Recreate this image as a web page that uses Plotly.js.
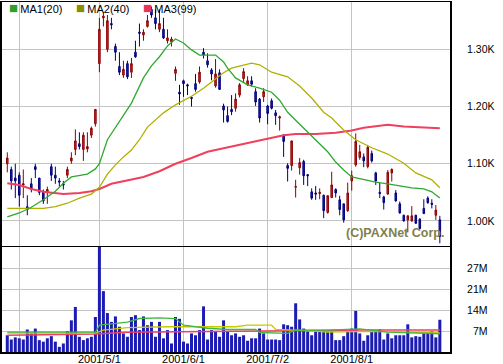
<!DOCTYPE html>
<html><head><meta charset="utf-8">
<script src="https://cdn.plot.ly/plotly-3.0.1.min.js"></script>
<style>html,body{margin:0;padding:0;background:#fff}</style>
</head><body><div id="chart" style="width:503px;height:364px"></div>
<script>
// ---- data (trading-day index 0..108) ----
const openP  = [1100,1090,1075,1080,1063,1025,1065,1095,1075,1050,1050,1095,1080,1070,1065,1080,1105,1125,1135,1125,1126,1150,1170,1275,1355,1300,1345,1305,1270,1255,1275,1260,1295,1330,1325,1340,1370,1355,1335,1335,1315,1313,1258,1225,1245,1238,1216,1240,1243,1295,1280,1264,1236,1259,1201,1184,1195,1197,1220,1249,1238,1245,1226,1213,1217,1201,1210,1189,1180,1150,1097,1097,1059,1093,1104,1081,1051,1049,1048,1045,1015,1041,1055,1037,1030,1018,1070,1098,1111,1112,1095,1118,1084,1050,1042,1047,1084,1049,1030,1010,1002,1000,1010,1003,1022,1040,1031,1010,1002];
const highP  = [1120,1095,1100,1085,1090,1045,1075,1100,1075,1055,1060,1100,1095,1075,1070,1095,1120,1160,1155,1155,1155,1165,1195,1355,1365,1360,1355,1310,1295,1280,1280,1285,1315,1345,1335,1360,1375,1370,1370,1355,1335,1322,1270,1238,1247,1240,1218,1257,1270,1302,1293,1267,1283,1265,1205,1200,1220,1223,1241,1267,1253,1253,1232,1215,1232,1203,1214,1194,1184,1152,1101,1140,1072,1110,1107,1081,1057,1061,1057,1046,1045,1086,1057,1044,1030,1067,1088,1153,1133,1118,1133,1123,1086,1067,1044,1089,1092,1054,1034,1011,1010,1026,1011,1005,1038,1043,1038,1028,1009];
const lowP   = [1085,1055,1040,1025,1040,1010,1050,1075,1045,1030,1030,1070,1065,1060,1055,1075,1100,1115,1125,1105,1120,1145,1165,1260,1340,1295,1335,1280,1255,1250,1248,1250,1285,1305,1315,1338,1355,1335,1330,1318,1310,1305,1245,1203,1217,1220,1200,1226,1240,1284,1268,1246,1233,1229,1172,1172,1185,1191,1216,1242,1236,1235,1201,1172,1208,1169,1195,1168,1158,1112,1069,1088,1041,1081,1063,1061,1037,1037,1038,1005,1013,1040,1041,1010,997,1016,1053,1095,1107,1094,1092,1102,1063,1040,1020,1046,1069,1034,1013,999,980,999,995,985,1012,1030,1022,1002,961];
const closeP = [1110,1070,1070,1045,1065,1020,1055,1090,1050,1035,1055,1080,1075,1068,1063,1090,1110,1140,1130,1150,1130,1162,1195,1335,1358,1350,1343,1295,1260,1265,1252,1275,1287,1328,1330,1350,1360,1345,1345,1320,1320,1318,1265,1222,1240,1236,1214,1230,1260,1290,1273,1257,1257,1230,1194,1174,1191,1213,1238,1261,1245,1239,1208,1180,1226,1188,1197,1184,1182,1139,1092,1140,1060,1102,1079,1079,1040,1047,1050,1018,1044,1063,1049,1020,1002,1049,1079,1139,1121,1105,1129,1105,1070,1048,1032,1085,1090,1035,1014,1000,1009,1009,996,987,1013,1032,1029,1019,973];
// volume in millions of shares
const volumeM = [5.5,4.1,4.8,4.5,4.1,7.4,6.1,7.7,3.9,3.4,4.5,5.2,3.4,1.7,2.8,6.8,10.4,14.8,5.0,3.9,4.5,5.0,11.5,34.5,20,12.8,9.9,11.7,8.3,6.1,5.0,11.5,12.1,7.2,11.7,8.8,9.9,5.0,9.9,4.5,7.2,2.8,11.5,10.9,3.4,2.8,6.1,5.5,7.2,15,4.1,7.2,6.7,5.0,10.4,6.7,5.5,6.1,5.0,5.5,3.7,4.5,4.5,7.7,6.1,4.1,4.1,4.1,3.9,9.1,8.8,8.3,16,10.7,7.7,6.7,5.5,6.7,6.7,7.2,6.7,6.7,3.9,3.9,5.2,6.7,7.7,13.5,6.1,3.7,5.5,6.7,6.7,7.4,4.1,6.1,4.5,5.5,5.5,5.5,9.1,4.8,5.2,5.0,6.3,6.3,6.7,4.8,10.6];

// moving-average lines (index, value)
const ma1Idx = [0,3,6,9,12,14,16,18,20,22,23,25,27,29,31,34,36,38,40,42,44,46,48,50,52,54,55,57,60,63,66,68,70,72,75,78,80,82,84,86,89,92,95,98,101,104,106,108];
const ma1Val = [1007,1014,1024,1037,1052,1066,1077,1080,1082,1091,1100,1142,1164,1185,1206,1250,1271,1287,1306,1318,1311,1299,1290,1290,1290,1278,1267,1250,1238,1232,1225,1211,1190,1176,1156,1136,1121,1103,1089,1077,1072,1068,1065,1061,1058,1056,1051,1040];
const ma2Idx = [0,5,9,12,15,18,21,23,25,27,29,31,33,35,37,39,42,46,49,52,54,56,59,61,63,66,70,73,76,79,81,84,87,91,95,99,102,106,108];
const ma2Val = [1022,1022,1022,1025,1031,1040,1047,1059,1082,1098,1112,1124,1142,1164,1177,1189,1203,1218,1232,1248,1259,1267,1273,1276,1273,1260,1252,1236,1215,1190,1180,1159,1142,1128,1117,1101,1084,1072,1058];
const ma3Idx = [0,3,6,9,14,18,21,23,26,31,34,38,42,46,50,54,58,62,66,69,72,77,82,86,89,95,99,104,108];
const ma3Val = [1066,1063,1056,1051,1047,1049,1052,1056,1065,1072,1077,1087,1100,1110,1121,1127,1133,1139,1145,1150,1152,1152,1154,1158,1163,1168,1165,1163,1162];

const vma1Idx = [0,22,23,26,30,33,38,42,44,50,55,62,63,70,72,80,88,95,108];
const vma1Val = [6.5,6.5,8.8,9.3,9.8,11,11.2,11,8.8,7.8,7.4,7.4,6.4,6.1,7.2,7.2,7.6,6.5,6.0];
const vma2Idx = [0,22,24,30,40,57,60,66,67,75,80,90,108];
const vma2Val = [6.2,6.2,7.2,8.0,8.3,8.3,8.8,8.8,7.4,7.0,6.5,6.8,6.3];
const vma3Idx = [0,22,30,60,75,90,108];
const vma3Val = [5.5,5.9,6.5,6.9,7.0,7.2,7.2];

const monthTickIdx = [3,23,44,65,86];
const monthTickText = ['','2001/5/1','2001/6/1','2001/7/2','2001/8/1'];
const priceTicks = [1000,1100,1200,1300];
const priceTickText = ['1.00K','1.10K','1.20K','1.30K'];
const volTicks = [6.9,13.8,20.7,27.6];
const volTickText = ['\u20077M','14M','21M','27M'];

// ---- build ----
const idx = openP.map((_, i) => i);
const M = 1e6;
const traces = [
  {type:'candlestick', x:idx, open:openP, high:highP, low:lowP, close:closeP,
   xaxis:'x', yaxis:'y', whiskerwidth:0, hoverinfo:'skip', showlegend:false,
   increasing:{line:{color:'#8c0000', width:1}, fillcolor:'#d42626'},
   decreasing:{line:{color:'#00007c', width:1}, fillcolor:'#1c1cc8'}},
  {type:'scatter', mode:'lines', x:ma3Idx, y:ma3Val, xaxis:'x', yaxis:'y', line:{color:'#f0405e', width:2}, showlegend:false, hoverinfo:'skip'},
  {type:'scatter', mode:'lines', x:ma2Idx, y:ma2Val, xaxis:'x', yaxis:'y', line:{color:'#b0b000', width:1.3}, showlegend:false, hoverinfo:'skip'},
  {type:'scatter', mode:'lines', x:ma1Idx, y:ma1Val, xaxis:'x', yaxis:'y', line:{color:'#30a830', width:1.3}, showlegend:false, hoverinfo:'skip'},
  {type:'bar', x:idx, y:volumeM.map(v => v*M), xaxis:'x2', yaxis:'y2', marker:{color:'#1c1cb4', line:{width:0}}, showlegend:false, hoverinfo:'skip'},
  {type:'scatter', mode:'lines', x:vma3Idx, y:vma3Val.map(v=>v*M), xaxis:'x2', yaxis:'y2', line:{color:'#f0405e', width:1.5}, showlegend:false, hoverinfo:'skip'},
  {type:'scatter', mode:'lines', x:vma2Idx, y:vma2Val.map(v=>v*M), xaxis:'x2', yaxis:'y2', line:{color:'#c8c800', width:1.3}, showlegend:false, hoverinfo:'skip'},
  {type:'scatter', mode:'lines', x:vma1Idx, y:vma1Val.map(v=>v*M), xaxis:'x2', yaxis:'y2', line:{color:'#40b840', width:1.3}, showlegend:false, hoverinfo:'skip'}
];

const xr = [-1.32, 110.54];
const gridC = '#c4c4c4';
const tickFont = {family:'Liberation Sans, Arial, sans-serif', size:10.5, color:'#000'};
const layout = {
  width:503, height:364,
  margin:{l:2, r:53, t:2, b:12, pad:0},
  paper_bgcolor:'#fff', plot_bgcolor:'#fff',
  showlegend:false, boxgap:0.45, bargap:0.25,
  font:{family:'Liberation Sans, Arial, sans-serif', size:11, color:'#000'},
  xaxis:{domain:[0,1], anchor:'y', range:xr, rangeslider:{visible:false},
    tickmode:'array', tickvals:monthTickIdx, showticklabels:false, ticks:'',
    showgrid:true, gridcolor:gridC, gridwidth:1, zeroline:false,
    showline:true, mirror:true, linecolor:'#000', linewidth:1.5},
  yaxis:{domain:[0.3037,1], anchor:'x', range:[956.8,1382.7], side:'right',
    tickmode:'array', tickvals:priceTicks, ticktext:priceTickText, ticks:'',
    ticklabelstandoff:13, tickfont:tickFont,
    showgrid:true, gridcolor:gridC, zeroline:false,
    showline:true, mirror:true, linecolor:'#000', linewidth:2},
  xaxis2:{domain:[0,1], anchor:'y2', range:xr,
    tickmode:'array', tickvals:monthTickIdx, ticktext:monthTickText, ticks:'',
    tickfont:{family:'Liberation Sans, Arial, sans-serif', size:11, color:'#000'}, ticklabelstandoff:-4,
    showgrid:true, gridcolor:gridC, zeroline:false,
    showline:true, mirror:true, linecolor:'#000', linewidth:1.5},
  yaxis2:{domain:[0,0.30], anchor:'x2', range:[0,34.5*M], side:'right',
    tickmode:'array', tickvals:volTicks.map(v=>v*M), ticktext:volTickText, ticks:'',
    ticklabelstandoff:13, tickfont:tickFont,
    showgrid:true, gridcolor:gridC, zeroline:false,
    showline:true, mirror:true, linecolor:'#000', linewidth:2},
  annotations:[
    {xref:'paper', yref:'paper', x:0.0112, y:0.9857, xanchor:'left', yanchor:'middle', showarrow:false,
     text:'<span style="color:#2e9e2e;font-size:15px">■</span>\u2009MA1(20)', font:{size:11}},
    {xref:'paper', yref:'paper', x:0.1607, y:0.9857, xanchor:'left', yanchor:'middle', showarrow:false,
     text:'<span style="color:#8c8c00;font-size:15px">■</span>\u2009MA2(40)', font:{size:11}},
    {xref:'paper', yref:'paper', x:0.3103, y:0.9857, xanchor:'left', yanchor:'middle', showarrow:false,
     text:'<span style="color:#e8345a;font-size:15px">■</span>\u2009MA3(99)', font:{size:11}},
    {xref:'paper', yref:'paper', x:0.991, y:0.3386, xanchor:'right', yanchor:'middle', showarrow:false,
     text:'<b>(C)PAXNet Corp.</b>', font:{size:12.5, color:'#80804e'}}
  ]
};
Plotly.newPlot('chart', traces, layout, {staticPlot:true, displayModeBar:false});
</script>
</body></html>
